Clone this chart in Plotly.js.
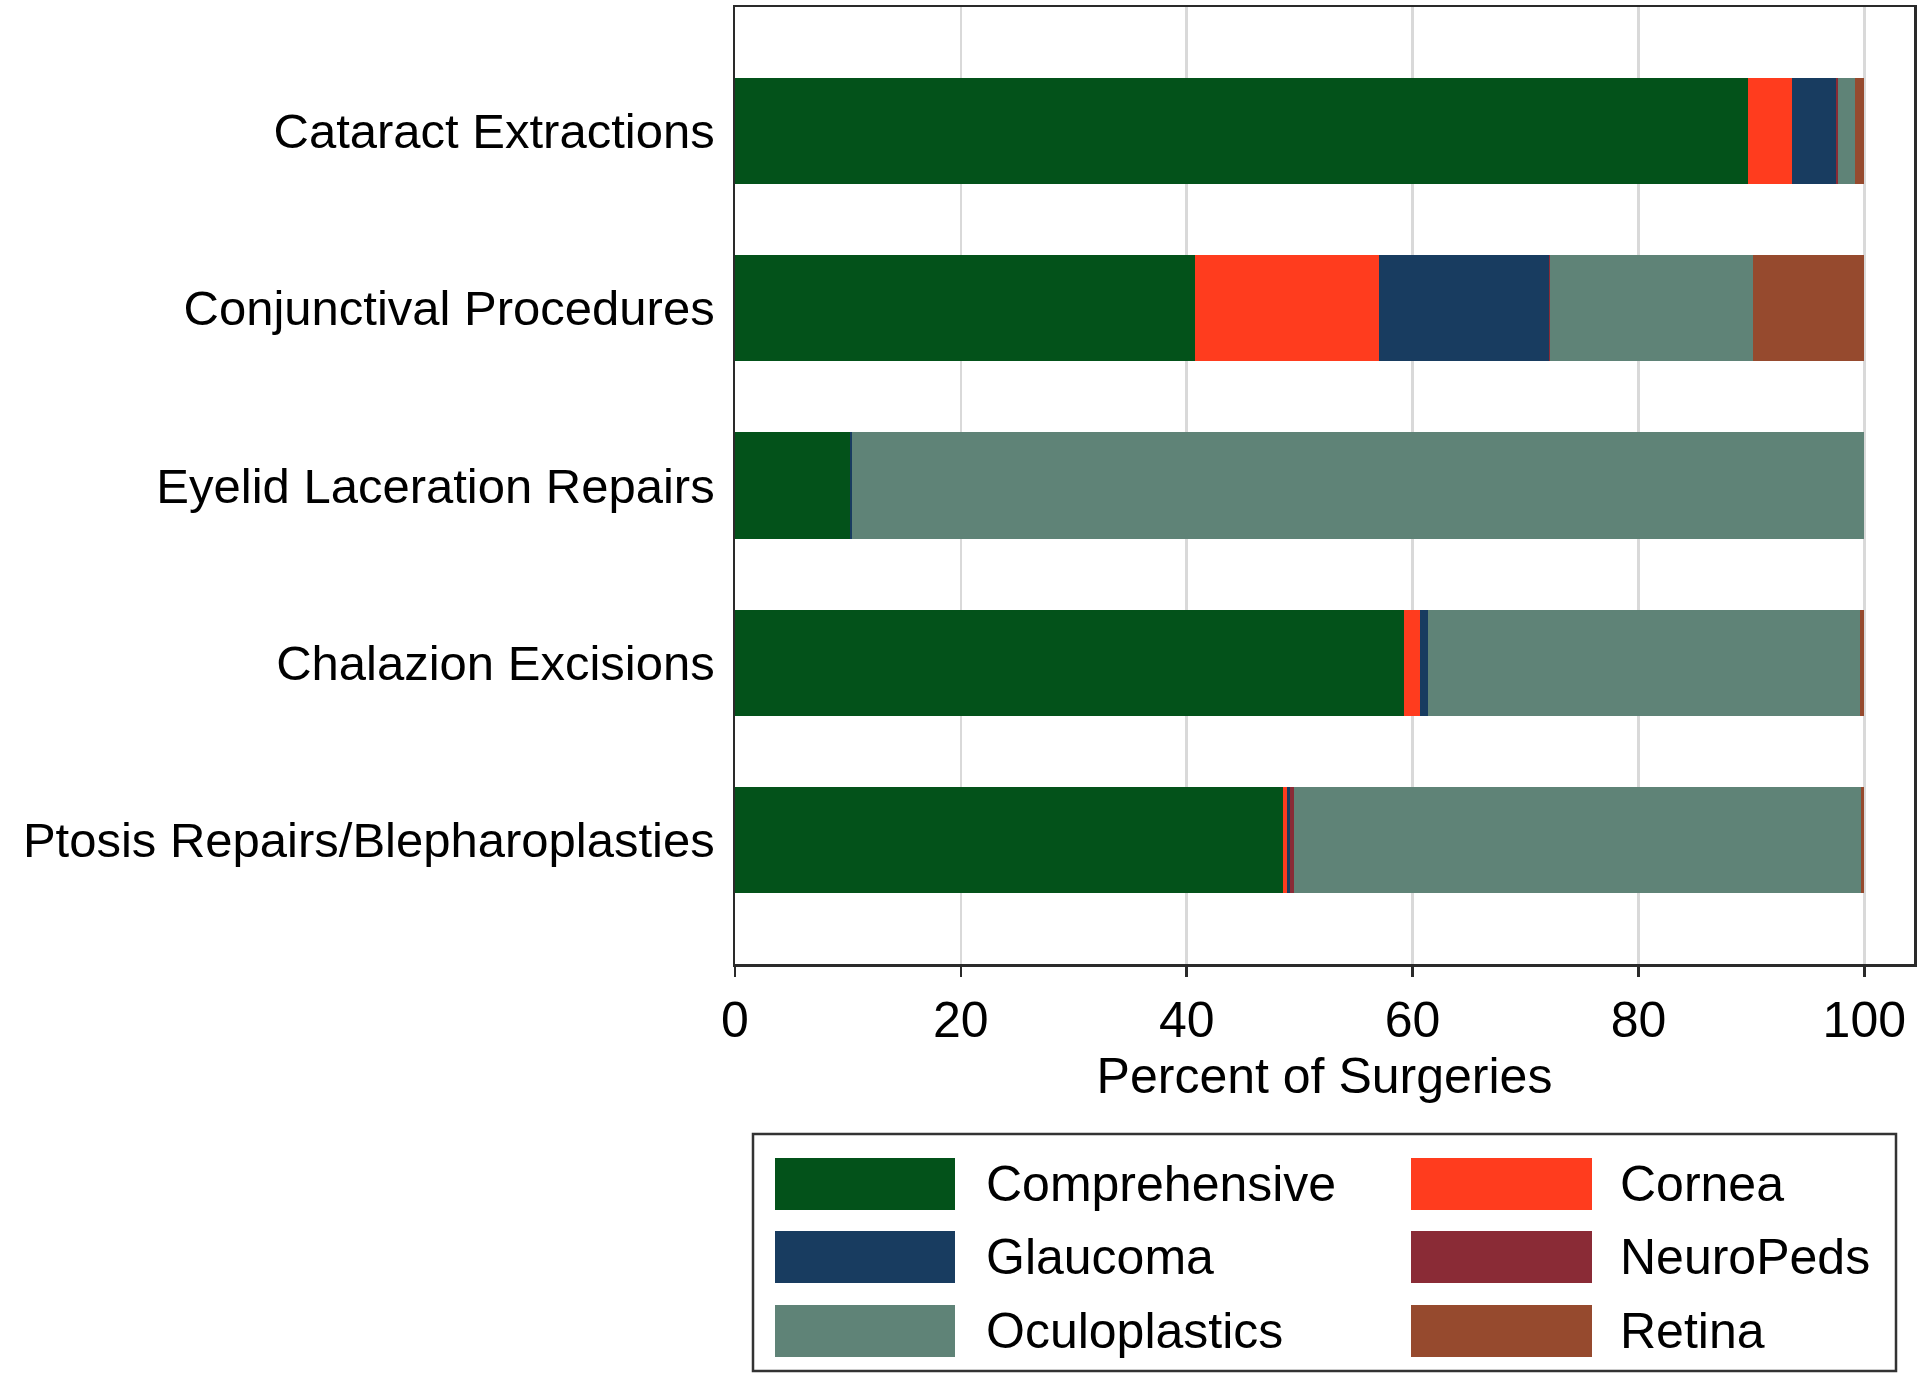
<!DOCTYPE html>
<html>
<head>
<meta charset="utf-8">
<script src="https://cdn.plot.ly/plotly-3.0.1.min.js"></script>
<style>
  html, body { margin: 0; padding: 0; background: #ffffff; }
  #chart { width: 1920px; height: 1385px; }
</style>
</head>
<body>
<div id="chart"></div>
<script>
// ---- Data ----
const categories = [
  "Cataract Extractions",
  "Conjunctival Procedures",
  "Eyelid Laceration Repairs",
  "Chalazion Excisions",
  "Ptosis Repairs/Blepharoplasties"
];
const seriesNames = ["Comprehensive", "Cornea", "Glaucoma", "NeuroPeds", "Oculoplastics", "Retina"];
const comprehensive = [89.7, 40.7, 10.2, 59.2, 48.5];
const cornea        = [3.9, 16.3, 0, 1.5, 0.35];
const glaucoma      = [3.9, 15.1, 0.2, 0.7, 0.3];
const neuroPeds     = [0.15, 0.1, 0, 0, 0.35];
const oculoplastics = [1.5, 17.9, 89.6, 38.2, 50.2];
const retina        = [0.85, 9.9, 0, 0.4, 0.3];
const xTickVals = [0, 20, 40, 60, 80, 100];

// ---- Styles ----
const colors = ["#03521a", "#ff3c1e", "#183c60", "#8a2b36", "#5f8377", "#964a2e"];
const seriesValues = [comprehensive, cornea, glaucoma, neuroPeds, oculoplastics, retina];
const FONT = "Liberation Sans, Arial, Helvetica, sans-serif";

const traces = seriesNames.map((name, i) => ({
  type: "bar",
  orientation: "h",
  name: name,
  y: categories,
  x: seriesValues[i],
  marker: { color: colors[i], line: { width: 0 } },
  showlegend: false,
  hoverinfo: "name+x"
}));

// plot area in pixels
const W = 1920, H = 1385;
const L = 735, R = 6, T = 7, B = 421;
const PW = W - L - R, PH = H - T - B;
const px = v => (v - L) / PW;
const py = v => (H - B - v) / PH;

// manual legend (big swatches as in the reference)
const shapes = [];
const annotations = [];
shapes.push({
  type: "rect", xref: "paper", yref: "paper",
  x0: px(753), x1: px(1896), y0: py(1134), y1: py(1371),
  line: { color: "#333333", width: 2.5 }, fillcolor: "rgba(0,0,0,0)"
});
const legendOrder = [0, 1, 2, 3, 4, 5];
const colSwatchX = [[775, 955], [1411, 1592]];
const colTextX = [984, 1618];
const rowY = [1184, 1257, 1331];
legendOrder.forEach((si, k) => {
  const col = k % 2, row = Math.floor(k / 2);
  shapes.push({
    type: "rect", xref: "paper", yref: "paper",
    x0: px(colSwatchX[col][0]), x1: px(colSwatchX[col][1]),
    y0: py(rowY[row] + 26), y1: py(rowY[row] - 26),
    line: { width: 0 }, fillcolor: colors[si]
  });
  annotations.push({
    xref: "paper", yref: "paper",
    x: px(colTextX[col]), y: py(rowY[row]),
    xanchor: "left", yanchor: "middle",
    text: seriesNames[si], showarrow: false,
    font: { family: FONT, size: 50, color: "#000000" }
  });
});

const layout = {
  width: W, height: H,
  paper_bgcolor: "#ffffff", plot_bgcolor: "#ffffff",
  margin: { l: L, r: R, t: T, b: B, pad: 0 },
  barmode: "stack",
  bargap: 0.4,
  showlegend: false,
  font: { family: FONT, size: 50, color: "#000000" },
  xaxis: {
    range: [0, 104.4],
    tickvals: xTickVals,
    ticktext: xTickVals.map(String),
    ticks: "outside", ticklen: 10, tickwidth: 2.5, tickcolor: "#2a2a2a",
    showgrid: true, gridcolor: "#d9d9d9", gridwidth: 2.5,
    zeroline: false,
    showline: true, linecolor: "#2a2a2a", linewidth: 2.5, mirror: true,
    tickfont: { family: FONT, size: 50, color: "#000000" },
    title: { text: "Percent of Surgeries", font: { family: FONT, size: 50, color: "#000000" }, standoff: 10 }
  },
  yaxis: {
    type: "category",
    categoryorder: "array", categoryarray: categories,
    range: [4.7, -0.7],
    ticks: "", showgrid: false, zeroline: false,
    showline: true, linecolor: "#2a2a2a", linewidth: 2.5, mirror: true,
    ticklabelstandoff: 8,
    tickfont: { family: FONT, size: 49, color: "#000000" }
  },
  shapes: shapes,
  annotations: annotations
};

Plotly.newPlot("chart", traces, layout, { displayModeBar: false, staticPlot: true });
</script>
</body>
</html>
